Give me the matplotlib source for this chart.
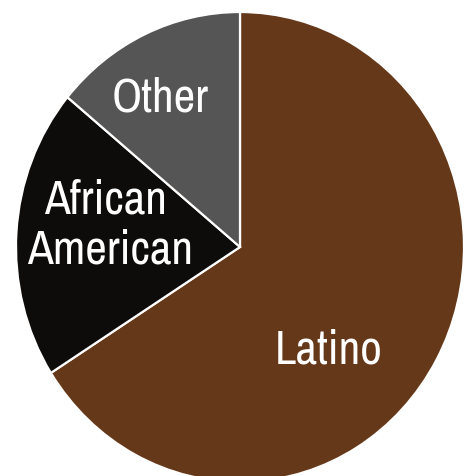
import matplotlib
matplotlib.use("Agg")
import matplotlib.pyplot as plt

# Share of population by group
groups = ["Latino", "African American", "Other"]
shares = [66, 20, 14]
colors = ["#653819", "#0e0c0a", "#555555"]

W, H = 466, 476
fig = plt.figure(figsize=(W / 100, H / 100), dpi=100)
ax = fig.add_axes([0, 0, 1, 1])

ax.pie(shares, colors=colors, startangle=90, counterclock=False,
       wedgeprops=dict(edgecolor="white", linewidth=1.6))

# Pie center sits at pixel (240, 247); slightly taller than wide, cropped right/bottom
cx, cy, rx, ry = 240, 247, 224, 235
ax.set_aspect("auto")
ax.set_xlim(-cx / rx, (W - cx) / rx)
ax.set_ylim(-(H - cy) / ry, cy / ry)
ax.axis("off")


def px(x, y):
    return (x - cx) / rx, (cy - y) / ry


font = dict(family=["Archivo Narrow", "Liberation Sans", "DejaVu Sans"],
            color="white", fontsize=34, ha="center", va="baseline")
ax.text(*px(160.5, 112), "Other", **font)
ax.text(*px(105.5, 213), "African", **font)
ax.text(*px(110.5, 263), "American", **font)
ax.text(*px(329, 363), "Latino", **font)

fig.savefig("out.png", dpi=100, facecolor="white")
